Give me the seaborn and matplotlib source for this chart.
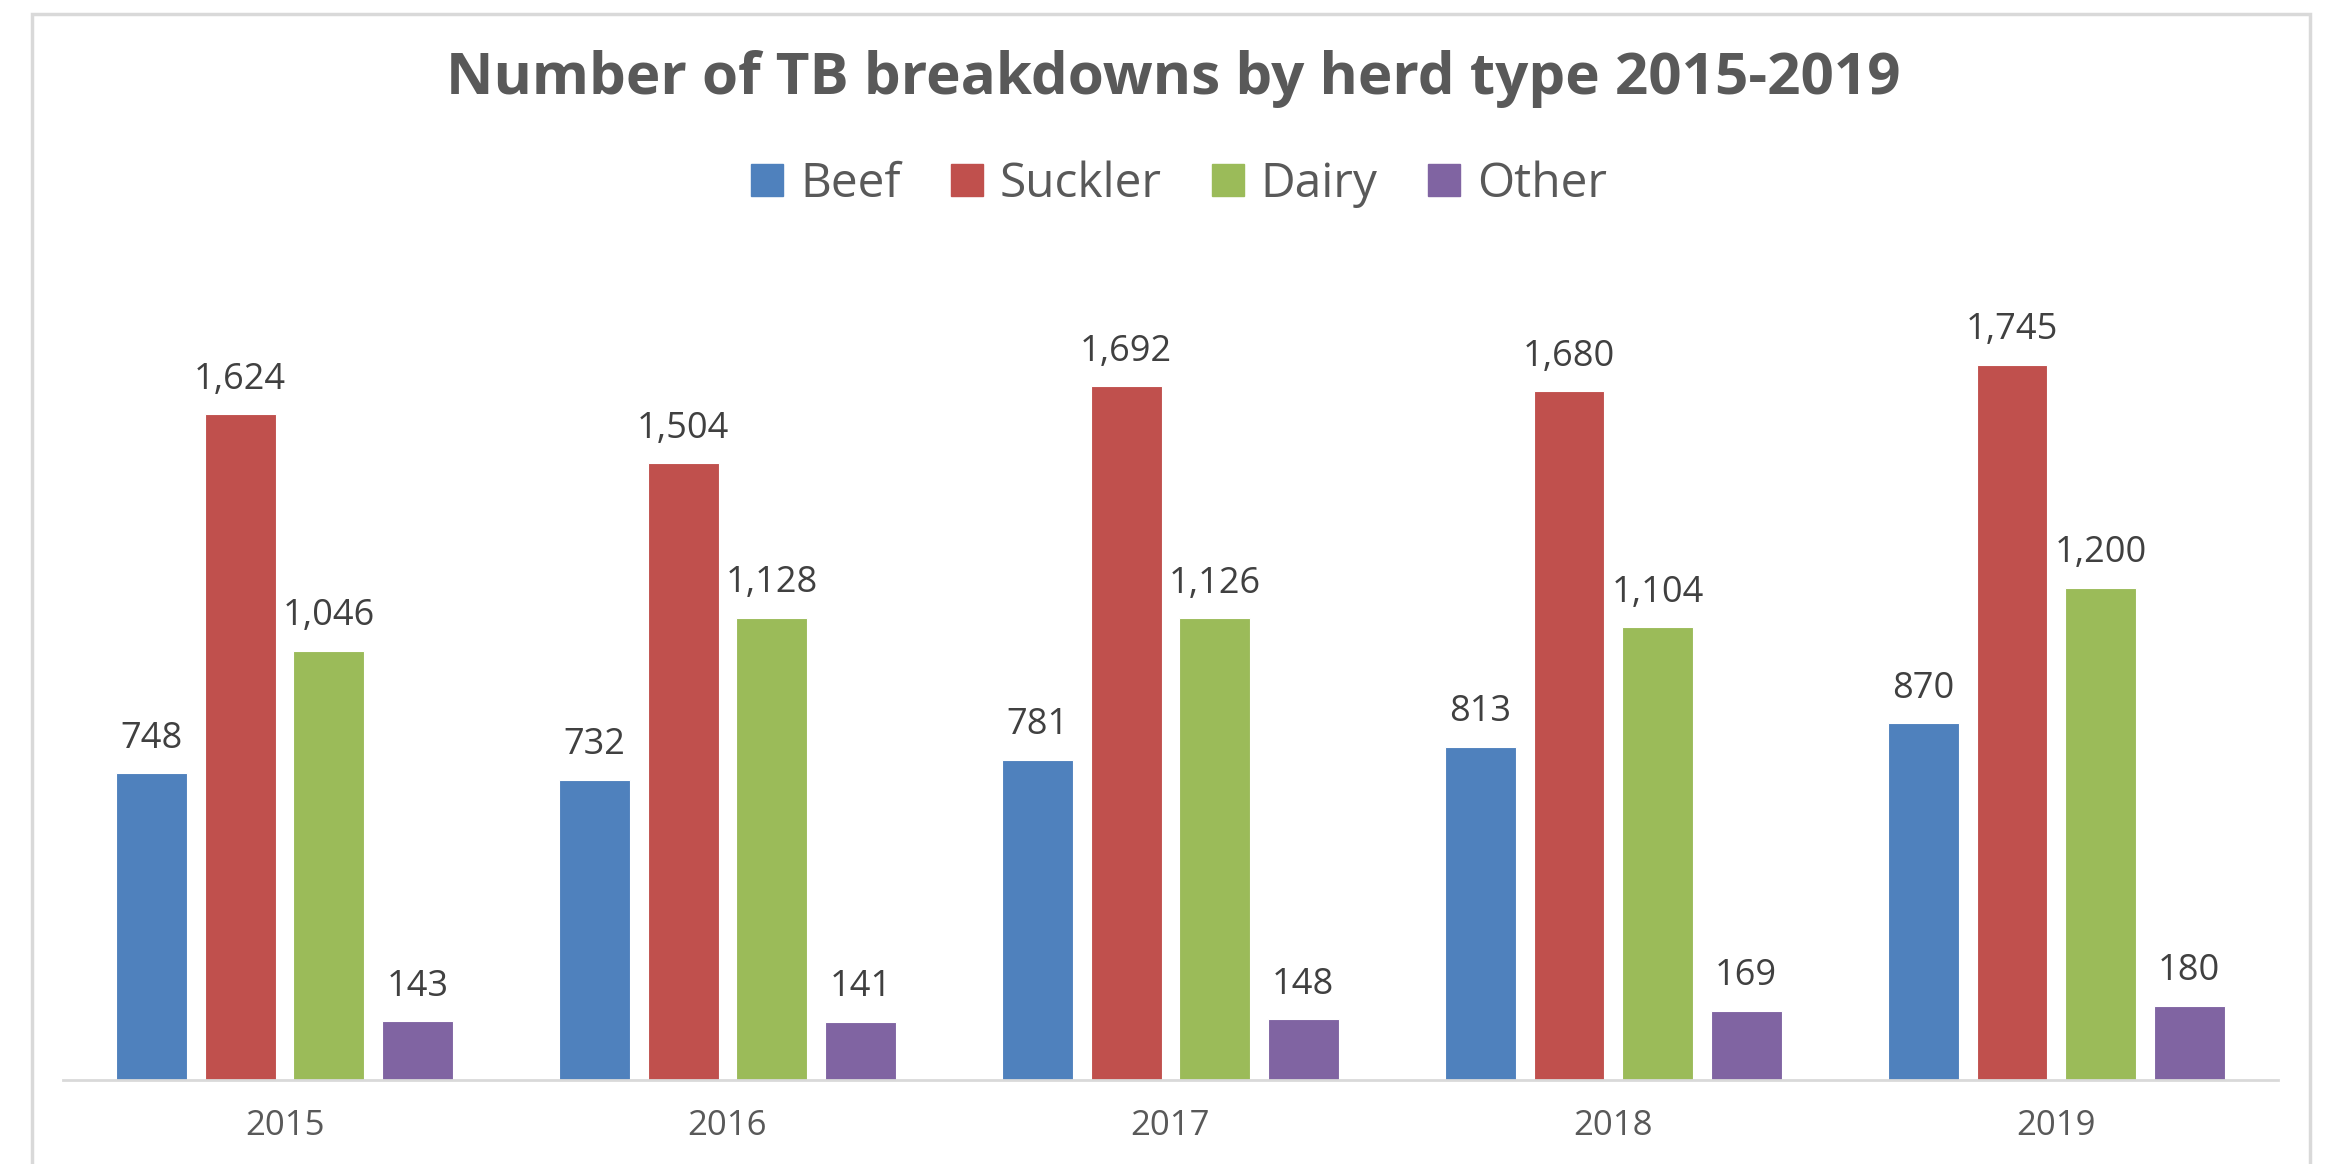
import numpy as np
import pandas as pd
import matplotlib.pyplot as plt
import matplotlib.patches as mpatches
import seaborn as sns

# data
years = ['2015', '2016', '2017', '2018', '2019']
herd_types = ['Beef', 'Suckler', 'Dairy', 'Other']
beef = [748, 732, 781, 813, 870]
suckler = [1624, 1504, 1692, 1680, 1745]
dairy = [1046, 1128, 1126, 1104, 1200]
other = [143, 141, 148, 169, 180]
colors = ['#4F81BD', '#C0504D', '#9BBB59', '#8064A2']

# long form table for seaborn
df = pd.DataFrame({
    'year': years * 4,
    'herd': np.repeat(herd_types, len(years)),
    'count': beef + suckler + dairy + other,
})

sns.set_theme(style='white')
plt.rcParams['font.family'] = ['Open Sans', 'DejaVu Sans']

fig = plt.figure(figsize=(23.46, 11.64), dpi=100)
ax = fig.add_axes([0.0269, 0.0722, 0.944, 0.7044])

sns.barplot(data=df, x='year', y='count', hue='herd', order=years,
            hue_order=herd_types, palette=colors, width=0.8, gap=0.2,
            saturation=1, edgecolor='white', linewidth=0.8, ax=ax)

for cont in ax.containers:
    ax.bar_label(cont, fmt='{:,.0f}', padding=12, fontsize=26, color='#404040')

ax.set_ylim(0, 2000)
ax.set_xlim(-0.5, 4.5)
ax.set_xlabel('')
ax.set_ylabel('')
ax.set_yticks([])
ax.tick_params(axis='x', length=0, labelsize=25, labelcolor='#595959', pad=21)
for side in ['top', 'right', 'left']:
    ax.spines[side].set_visible(False)
ax.spines['bottom'].set_color('#D9D9D9')
ax.spines['bottom'].set_linewidth(2)

# legend across the top
handles = [mpatches.Patch(color=c, label=h) for c, h in zip(colors, herd_types)]
ax.legend(handles=handles, loc='center',
          bbox_to_anchor=(0.5 + 6 / 2346, 1 - 184 / 1164),
          bbox_transform=fig.transFigure, ncol=4, frameon=False, fontsize=34.5,
          handlelength=0.67, handleheight=0.67, handletextpad=0.35,
          columnspacing=1.05, labelcolor='#595959')

fig.text(0.5, 1 - 79 / 1164, 'Number of TB breakdowns by herd type 2015-2019',
         ha='center', va='center', fontsize=42, fontweight='bold', color='#595959')

# chart frame
frame = mpatches.Rectangle((32 / 2346, -0.1), (2310 - 32) / 2346, 1.1 - 14 / 1164,
                           transform=fig.transFigure, fill=False,
                           edgecolor='#D9D9D9', linewidth=2.5)
fig.patches.append(frame)

fig.savefig('out.png', dpi=100)
